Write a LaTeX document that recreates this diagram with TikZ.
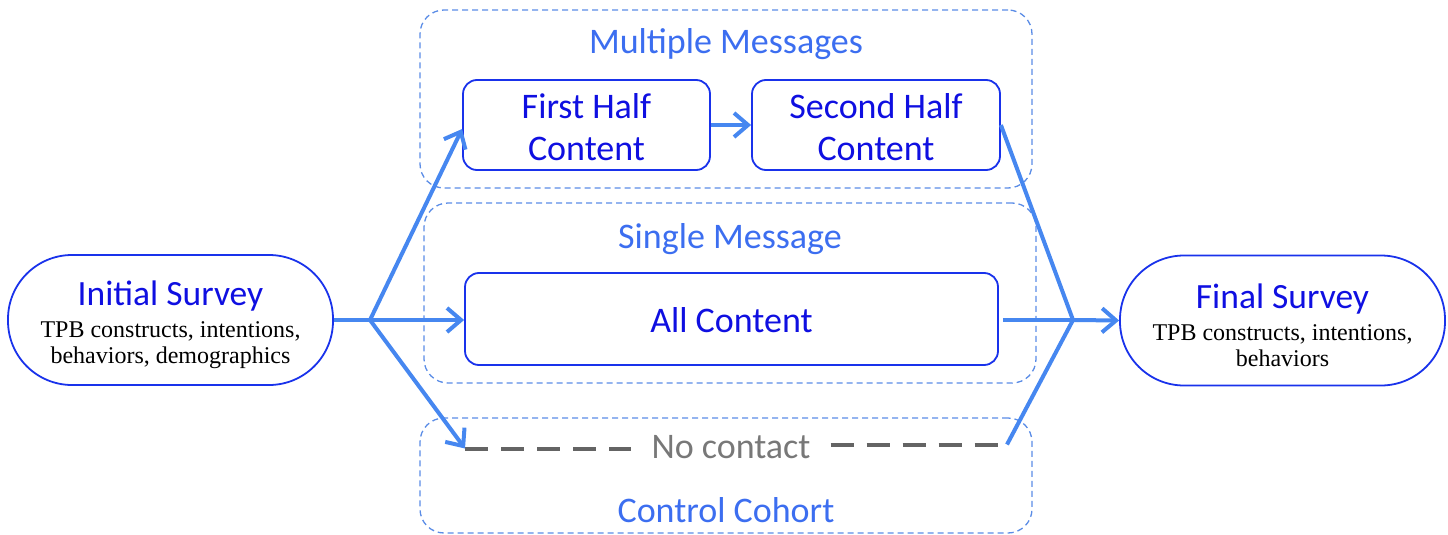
\documentclass[tikz,border=0pt]{standalone}
\usepackage{fontspec}
\setmainfont{Liberation Serif}
\newfontfamily\calfont{Carlito}
\usetikzlibrary{arrows.meta}
\definecolor{nodeblue}{RGB}{25,50,235}
\definecolor{textblue}{RGB}{15,15,225}
\definecolor{grpblue}{RGB}{60,110,240}
\definecolor{dashblue}{RGB}{90,140,230}
\definecolor{conblue}{RGB}{70,135,240}
\definecolor{graydash}{RGB}{100,100,100}
\definecolor{graytext}{RGB}{120,120,120}
\tikzset{
  survey/.style={draw=nodeblue, line width=1.8pt, rounded corners=64pt, minimum width=325pt, minimum height=130pt, align=center, inner sep=0pt, font=\fontsize{24}{26}\selectfont},
  contentbox/.style={draw=nodeblue, line width=1.8pt, rounded corners=14pt, minimum height=90pt, align=center, inner sep=0pt, text=textblue, font=\calfont\fontsize{36}{42}\selectfont},
  groupbox/.style={draw=dashblue, line width=1.3pt, dash pattern=on 6pt off 4pt, rounded corners=24pt, minimum width=612pt, inner sep=0pt},
  grouplabel/.style={text=grpblue, font=\calfont\fontsize{36}{40}\selectfont, anchor=base, inner sep=0pt},
  conn/.style={draw=conblue, line width=4pt},
  arr/.style={conn, -{Straight Barb[length=14pt,width=24pt,line width=4pt]}},
  nocontact/.style={draw=graydash, line width=4pt, dash pattern=on 23pt off 13pt},
}
\begin{document}
\begin{tikzpicture}[x=1pt,y=-1pt]
\useasboundingbox (0,0) rectangle (1448,535);
% group boxes
\node[groupbox, minimum height=178pt] (mm) at (726,99) {};
\node[groupbox, minimum height=180pt] (sm) at (730,293) {};
\node[groupbox, minimum height=115pt] (cc) at (726,475.5) {};
\node[grouplabel] (mml) at (726,54) {Multiple Messages};
\node[grouplabel] (sml) at (730,248) {Single Message};
\node[grouplabel] (ccl) at (726,522) {Control Cohort};
% surveys
\node[survey] (init) at (170.5,320) {\rule{0pt}{35pt}{\calfont\fontsize{35.5}{34}\selectfont\color{textblue}Initial Survey}\\[6pt]TPB constructs, intentions,\\behaviors, demographics};
\node[survey] (final) at (1282.5,320.5) {\rule{0pt}{35pt}{\calfont\fontsize{35.5}{34}\selectfont\color{textblue}Final Survey}\\[6pt]TPB constructs, intentions,\\behaviors};
% content boxes
\node[contentbox, minimum width=247pt] (fh) at (586.5,125) {\rule{0pt}{30pt}First Half\\Content};
\node[contentbox, minimum width=248pt] (sh) at (876,125) {\rule{0pt}{30pt}Second Half\\Content};
\node[contentbox, minimum width=533pt, minimum height=92pt] (all) at (731.5,319) {\rule{0pt}{28pt}All Content};
% no contact
\node[text=graytext, font=\calfont\fontsize{36}{40}\selectfont, inner xsep=20pt, inner ysep=0pt] (nc) at (731,447) {No contact};
\coordinate (ncl) at (465,448.5);
\coordinate (ncr) at (1007,444.5);
\draw[nocontact] (ncl) -- (nc.west |- ncl);
\draw[nocontact] (nc.east |- ncr) -- (ncr);
% connectors
\coordinate (split) at (370,320);
\coordinate (merge) at (1073,320);
\draw[conn] (init.east) -- (split);
\draw[arr] (split) -- ([yshift=-4pt]fh.west);
\draw[arr] (split) -- (all.west |- split);
\draw[arr] (split) -- (ncl);
\draw[arr] (fh.east) -- (sh.west);
\draw[conn, line join=round] (sh.east) -- (merge);
\draw[conn] (all.east |- merge) ++(4pt,0) -- (merge);
\draw[conn, line join=round] (ncr) -- (merge);
\draw[arr] (merge) -- (final.west);
\end{tikzpicture}
\end{document}
